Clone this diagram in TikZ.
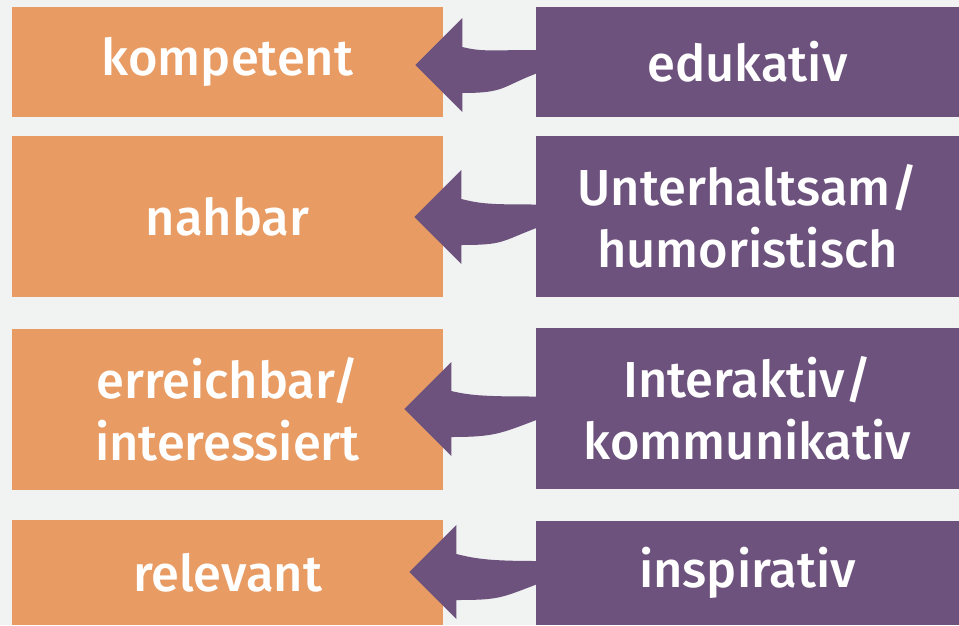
\documentclass[tikz,border=0pt]{standalone}
\usepackage{fontspec}
\setmainfont{Fira Sans}[BoldFont={Fira Sans Medium}]
\usetikzlibrary{calc,positioning}

\definecolor{warmorange}{HTML}{E89B63}
\definecolor{plum}{HTML}{6C527D}
\definecolor{paper}{HTML}{F1F2F2}

\tikzset{
  box/.style={rectangle, inner sep=0pt, text=white, align=center,
    font=\fontsize{36}{44}\selectfont\bfseries},
  gain/.style={box, fill=warmorange, minimum width=10.775cm},
  format/.style={box, fill=plum, minimum width=10.575cm},
  bigarrow/.style={fill=plum, to path={
    ($(\tikztostart)+(2,-12)$)
    .. controls ($(\tikztostart)+(-45,-12)$) and ($(\tikztotarget)+(67,-13)$) .. ($(\tikztotarget)+(47,-18)$)
    -- ($(\tikztotarget)+(47,-47)$) -- (\tikztotarget) -- ($(\tikztotarget)+(47,47)$)
    -- ($(\tikztotarget)+(47,28)$)
    .. controls ($(\tikztotarget)+(90,28)$) and ($(\tikztostart)+(-35,25)$) .. ($(\tikztostart)+(2,11)$)
    -- cycle}}
}

\begin{document}
\begin{tikzpicture}[x=0.025cm, y=-0.025cm]
        \fill[paper] (0,0) rectangle (959,625);
        \useasboundingbox (0,0) rectangle (959,625);
        \node[gain, minimum height=2.75cm] (kompetent) at (227.5,62) {kompetent};
        \node[format, minimum height=2.75cm] (edukativ) at (747.5,62) {edukativ};
        \node[gain, minimum height=4.025cm] (nahbar) at (227.5,216.5) {nahbar};
        \node[format, minimum height=4.025cm] (unterhaltsam) at (747.5,216.5) {Unterhaltsam/\\humoristisch};
        \node[gain, minimum height=4.025cm] (erreichbar) at (227.5,409.5) {erreichbar/\\interessiert};
        \node[format, minimum height=4.025cm] (interaktiv) at (747.5,408.5) {Interaktiv/\\kommunikativ};
        \node[gain, minimum height=2.625cm] (relevant) at (227.5,572.5) {relevant};
        \node[format, minimum height=2.6cm] (inspirativ) at (747.5,573) {inspirativ};
        \coordinate (tip1) at ($(kompetent.east)+(-28,3)$);
        \coordinate (tip2) at ($(nahbar.east)+(-29,0.5)$);
        \coordinate (tip3) at ($(erreichbar.east)+(-39,-0.5)$);
        \coordinate (tip4) at ($(relevant.east)+(-34,-0.5)$);
        \path[bigarrow] (edukativ.west) to (tip1);
        \path[bigarrow] (unterhaltsam.west) to (tip2);
        \path[bigarrow] (interaktiv.west) to (tip3);
        \path[bigarrow] (inspirativ.west) to (tip4);
\end{tikzpicture}
\end{document}
